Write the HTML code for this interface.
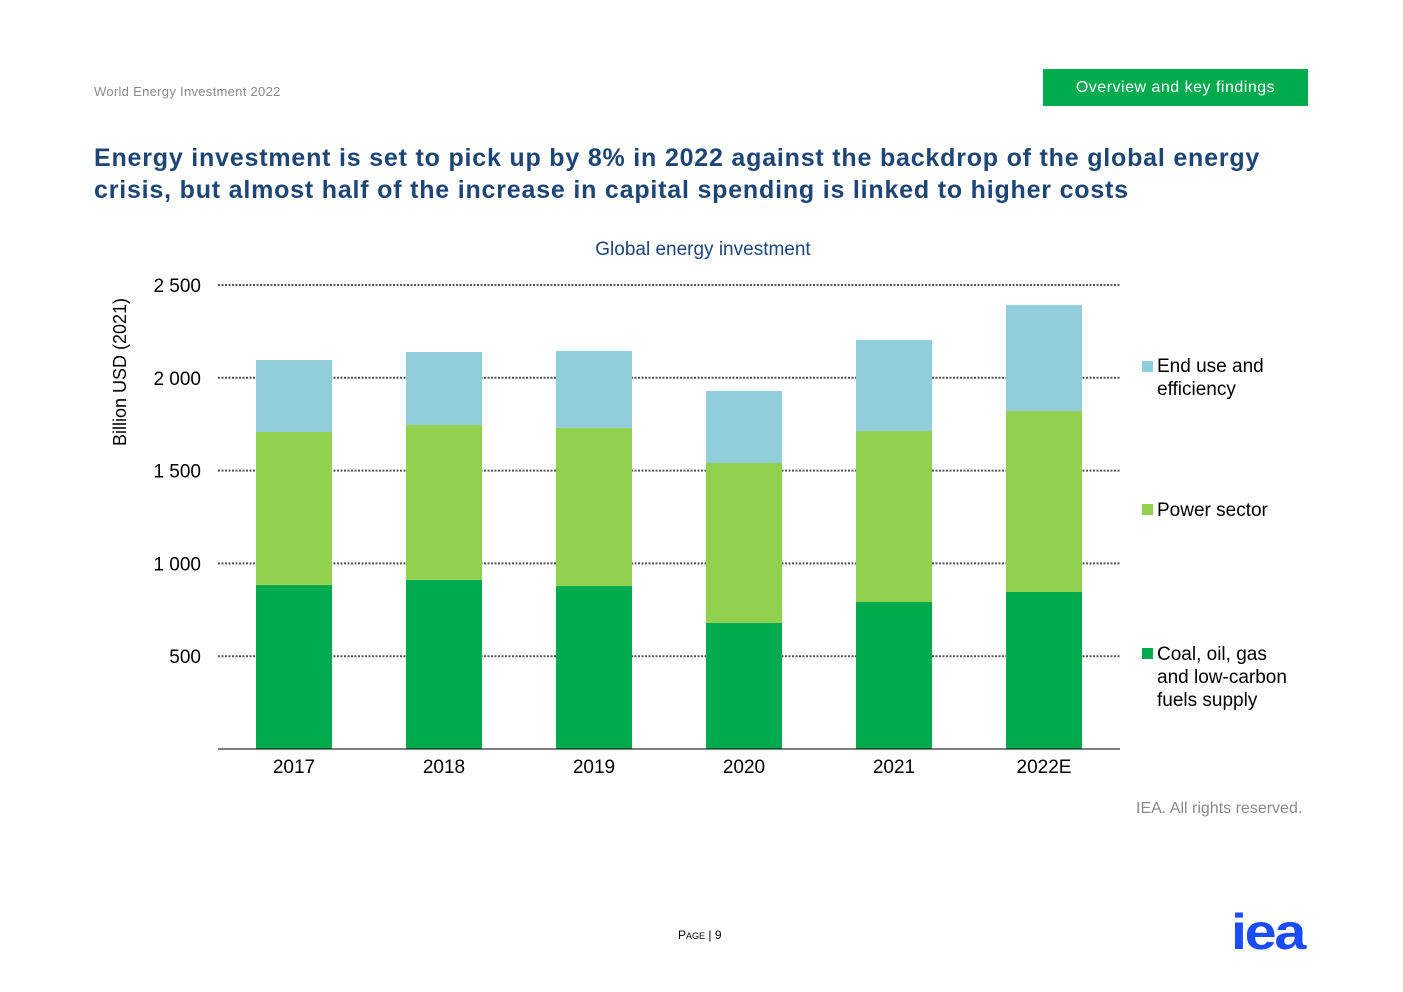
<!DOCTYPE html>
<html><head><meta charset="utf-8"><style>
body{margin:0;width:1403px;height:992px;background:#fff;font-family:"Liberation Sans",sans-serif;position:relative;overflow:hidden}
.a{position:absolute}
</style></head><body>
<div class="a" style="left:94px;top:84px;font-size:13px;color:#8a8a8a;letter-spacing:0.3px">World Energy Investment 2022</div>
<div class="a" style="left:1043px;top:69px;width:265px;height:37px;background:#00ab4e;color:#fff;font-size:16px;letter-spacing:0.5px;line-height:37px;text-align:center">Overview and key findings</div>
<div class="a" style="left:94px;top:142px;width:1195px;font-size:25px;font-weight:bold;color:#1d4576;line-height:32px;letter-spacing:0.8px">Energy investment is set to pick up by 8% in 2022 against the backdrop of the global energy crisis, but almost half of the increase in capital spending is linked to higher costs</div>
<svg class="a" style="left:0;top:0" width="1403" height="992">
<text x="703" y="255" text-anchor="middle" font-size="19" fill="#1d4576">Global energy investment</text>
<text transform="translate(126,372) rotate(-90)" text-anchor="middle" font-size="18" fill="#000">Billion USD (2021)</text>
<g id="grid"></g><g id="bars"></g><g id="xl"></g>
<line x1="218" x2="1120" y1="749" y2="749" stroke="#000" stroke-width="1"/>
<g font-size="19" fill="#000">
<rect x="1142" y="361" width="11" height="11" fill="#92cddc"/>
<text x="1157" y="372"><tspan>End use and</tspan><tspan x="1157" dy="23">efficiency</tspan></text>
<rect x="1142" y="504" width="11" height="11" fill="#92d050"/>
<text x="1157" y="516">Power sector</text>
<rect x="1142" y="648" width="11" height="11" fill="#00ab4e"/>
<text x="1157" y="660"><tspan>Coal, oil, gas</tspan><tspan x="1157" dy="23">and low-carbon</tspan><tspan x="1157" dy="23">fuels supply</tspan></text>
</g>
</svg>
<div class="a" style="left:1136px;top:800px;font-size:16px;color:#8a8a8a">IEA. All rights reserved.</div>
<div class="a" style="left:678px;top:928px;font-size:12px;color:#000">P<span style="font-size:9px">AGE</span> | 9</div>
<div class="a" style="left:1231px;top:903px;font-size:50px;font-weight:bold;color:#1a4bff;letter-spacing:-2px;transform:scaleX(1.15);transform-origin:left top">iea</div>
<script>
const categories=["2017","2018","2019","2020","2021","2022E"];
const supply=[884,911,878,679,792,846];
const power=[824,835,852,862,921,975];
const enduse=[388,393,414,388,491,571];
const ticks=[500,1000,1500,2000,2500];
const tickLabels=["500","1 000","1 500","2 000","2 500"];
const NS="http://www.w3.org/2000/svg";
const y=v=>749-v*0.1856;
const x=i=>294+i*150;
const grid=document.getElementById('grid'),bars=document.getElementById('bars'),xl=document.getElementById('xl');
ticks.forEach((t,i)=>{
 const l=document.createElementNS(NS,'line');
 l.setAttribute('x1',218);l.setAttribute('x2',1120);l.setAttribute('y1',y(t));l.setAttribute('y2',y(t));
 l.setAttribute('stroke','#555');l.setAttribute('stroke-width','2');l.setAttribute('stroke-dasharray','2,1.5');
 
 
 grid.appendChild(l);
 const tx=document.createElementNS(NS,'text');
 tx.setAttribute('x',201);tx.setAttribute('y',y(t)+7);tx.setAttribute('text-anchor','end');tx.setAttribute('font-size','19');
 tx.textContent=tickLabels[i];
 
 
 grid.appendChild(tx);
});
categories.forEach((c,i)=>{
 let base=0;
 [[supply,'#00ab4e','supply'],[power,'#92d050','power'],[enduse,'#92cddc','end-use']].forEach(([arr,col,n])=>{
  const r=document.createElementNS(NS,'rect');
  r.setAttribute('x',x(i)-38);r.setAttribute('width',76);
  r.setAttribute('y',y(base+arr[i]));r.setAttribute('height',arr[i]*0.1856);r.setAttribute('fill',col);
  
  
  bars.appendChild(r);base+=arr[i];
 });
 const t=document.createElementNS(NS,'text');
 t.setAttribute('x',x(i));t.setAttribute('y',773);t.setAttribute('text-anchor','middle');t.setAttribute('font-size','19');
 t.textContent=c;
 
 
 xl.appendChild(t);
});
</script>
</body></html>
